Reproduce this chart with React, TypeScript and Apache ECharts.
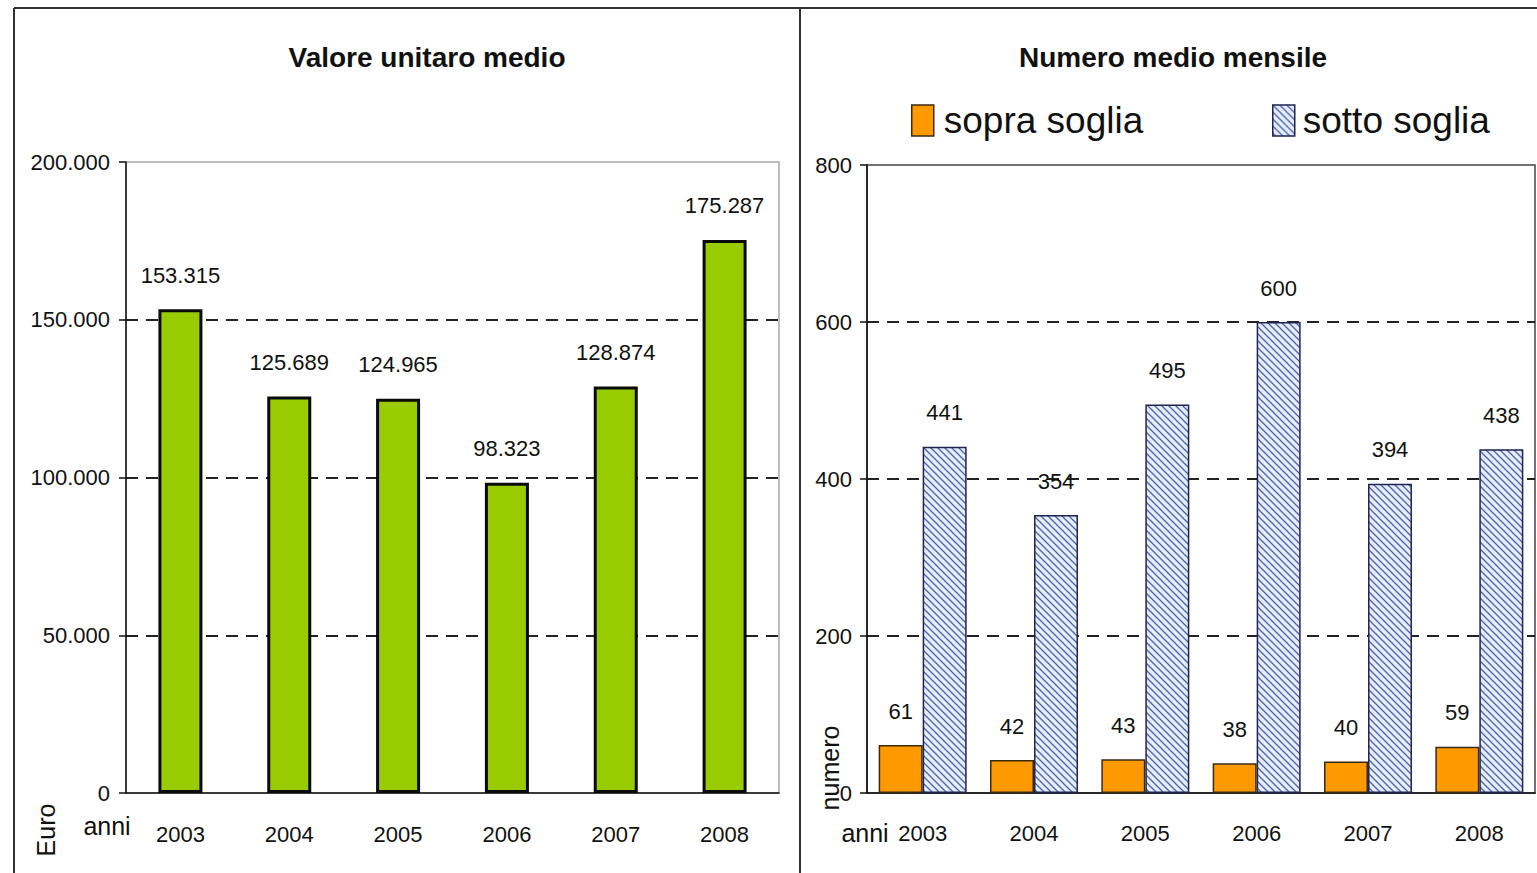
import React, { useEffect, useRef } from "react";
import * as echarts from "echarts";

const years = ["2003", "2004", "2005", "2006", "2007", "2008"];
const valoreUnitario = [153315, 125689, 124965, 98323, 128874, 175287];
const sopraSoglia = [61, 42, 43, 38, 40, 59];
const sottoSoglia = [441, 354, 495, 600, 394, 438];

const leftTitle = "Valore unitaro medio";
const rightTitle = "Numero medio mensile";
const seriesNames = ["sopra soglia", "sotto soglia"];

const FONT = "'Liberation Sans', Arial, sans-serif";

function fmtIt(v: number): string {
  return String(Math.round(v)).replace(/\B(?=(\d{3})+(?!\d))/g, ".");
}

function makeHatch(): string {
  const s = 7;
  const c = document.createElement("canvas");
  c.width = s;
  c.height = s;
  const ctx = c.getContext("2d")!;
  ctx.fillStyle = "#e6ecf8";
  ctx.fillRect(0, 0, s, s);
  ctx.strokeStyle = "#4a62b0";
  ctx.lineWidth = 1.3;
  ctx.beginPath();
  ctx.moveTo(-1, -1);
  ctx.lineTo(s + 1, s + 1);
  ctx.moveTo(-1, s - 1);
  ctx.lineTo(1, s + 1);
  ctx.moveTo(s - 1, -1);
  ctx.lineTo(s + 1, 1);
  ctx.stroke();
  return c.toDataURL();
}

export default function App() {
  const ref = useRef<HTMLDivElement>(null);

  useEffect(() => {
    if (!ref.current) return;
    const chart = echarts.init(ref.current, undefined, { renderer: "svg" });
    const hatch = { image: makeHatch(), repeat: "repeat", imageWidth: 7, imageHeight: 7 } as any;

    const splitColors = ["rgba(0,0,0,0)", "#222", "#222", "#222", "rgba(0,0,0,0)"];
    const axisLabel = { fontFamily: FONT, fontSize: 22, color: "#111" };

    const option: any = {
      animation: false,
      backgroundColor: "#fff",
      textStyle: { fontFamily: FONT },
      title: [
        {
          text: leftTitle,
          left: 422,
          top: 38,
          textAlign: "center",
          textStyle: { fontFamily: FONT, fontSize: 28, fontWeight: "bold", color: "#111" },
        },
        {
          text: rightTitle,
          left: 1168,
          top: 38,
          textAlign: "center",
          textStyle: { fontFamily: FONT, fontSize: 28, fontWeight: "bold", color: "#111" },
        },
      ],
      legend: [
        {
          data: [seriesNames[0]],
          left: 906,
          top: 97,
          itemWidth: 22,
          itemHeight: 31,
          icon: "rect",
          itemStyle: { borderWidth: 1.5, borderColor: "#3a2a10" },
          textStyle: { fontFamily: FONT, fontSize: 37, color: "#111", padding: [0, 0, 0, 5] },
        },
        {
          data: [seriesNames[1]],
          left: 1267,
          top: 97,
          itemWidth: 22,
          itemHeight: 31,
          icon: "rect",
          itemStyle: { borderWidth: 1.5, borderColor: "#1e2550" },
          textStyle: { fontFamily: FONT, fontSize: 37, color: "#111", padding: [0, 0, 0, 3] },
        },
      ],
      grid: [
        { left: 126, right: 1537 - 779, top: 162, bottom: 873 - 793, show: true, borderColor: "#a8a8a8", borderWidth: 1.5 },
        { left: 867, right: 1537 - 1535, top: 165, bottom: 873 - 793, show: true, borderColor: "#444", borderWidth: 1.5 },
      ],
      xAxis: [
        {
          type: "category",
          gridIndex: 0,
          data: years,
          axisLine: { lineStyle: { color: "#111", width: 1.5 } },
          axisTick: { length: 8, lineStyle: { color: "#111", width: 1.5 } },
          axisLabel: { ...axisLabel, margin: 30 },
        },
        {
          type: "category",
          gridIndex: 1,
          data: years,
          axisLine: { lineStyle: { color: "#111", width: 1.5 } },
          axisTick: { length: 8, lineStyle: { color: "#111", width: 1.5 } },
          axisLabel: { ...axisLabel, margin: 29 },
        },
      ],
      yAxis: [
        {
          type: "value",
          gridIndex: 0,
          min: 0,
          max: 200000,
          interval: 50000,
          axisLine: { show: true, lineStyle: { color: "#111", width: 1.5 } },
          axisTick: { show: true, length: 7, lineStyle: { color: "#111", width: 1.5 } },
          axisLabel: { ...axisLabel, margin: 16, formatter: (v: number) => fmtIt(v) },
          splitLine: { show: true, lineStyle: { color: splitColors, type: [12, 8], width: 1.8 } },
        },
        {
          type: "value",
          gridIndex: 1,
          min: 0,
          max: 800,
          interval: 200,
          axisLine: { show: true, lineStyle: { color: "#111", width: 1.5 } },
          axisTick: { show: true, length: 7, lineStyle: { color: "#111", width: 1.5 } },
          axisLabel: { ...axisLabel, margin: 15 },
          splitLine: { show: true, lineStyle: { color: splitColors, type: [12, 8], width: 1.8 } },
        },
      ],
      series: [
        {
          type: "bar",
          name: "valore",
          xAxisIndex: 0,
          yAxisIndex: 0,
          data: valoreUnitario,
          barWidth: 44,
          itemStyle: { color: "#99cc00", borderColor: "#0a0a0a", borderWidth: 3 },
          label: {
            show: true,
            position: "top",
            distance: 23,
            fontFamily: FONT,
            fontSize: 22,
            color: "#111",
            formatter: (p: any) => fmtIt(p.value),
          },
        },
        {
          type: "bar",
          name: seriesNames[0],
          xAxisIndex: 1,
          yAxisIndex: 1,
          data: sopraSoglia,
          barWidth: 44,
          barGap: "0%",
          itemStyle: { color: "#ff9900", borderColor: "#3a2a10", borderWidth: 1.5 },
          label: { show: true, position: "top", distance: 23, fontFamily: FONT, fontSize: 22, color: "#111" },
        },
        {
          type: "bar",
          name: seriesNames[1],
          xAxisIndex: 1,
          yAxisIndex: 1,
          data: sottoSoglia,
          barWidth: 44,
          barGap: "0%",
          itemStyle: { color: hatch, borderColor: "#1e2550", borderWidth: 1.5 },
          label: { show: true, position: "top", distance: 23, fontFamily: FONT, fontSize: 22, color: "#111" },
        },
      ],
      graphic: [
        { type: "line", shape: { x1: 14, y1: 8, x2: 1537, y2: 8 }, style: { stroke: "#333", lineWidth: 2 } },
        { type: "line", shape: { x1: 14, y1: 8, x2: 14, y2: 873 }, style: { stroke: "#333", lineWidth: 2 } },
        { type: "line", shape: { x1: 800, y1: 8, x2: 800, y2: 873 }, style: { stroke: "#333", lineWidth: 2 } },
        {
          type: "text",
          x: 107,
          y: 826,
          style: { text: "anni", font: `25px ${FONT}`, fill: "#111", align: "center", verticalAlign: "middle" },
        },
        {
          type: "text",
          x: 865,
          y: 833,
          style: { text: "anni", font: `25px ${FONT}`, fill: "#111", align: "center", verticalAlign: "middle" },
        },
        {
          type: "text",
          x: 46,
          y: 830,
          rotation: Math.PI / 2,
          style: { text: "Euro", font: `25px ${FONT}`, fill: "#111", align: "center", verticalAlign: "middle" },
        },
        {
          type: "text",
          x: 830,
          y: 768,
          rotation: Math.PI / 2,
          style: { text: "numero", font: `25px ${FONT}`, fill: "#111", align: "center", verticalAlign: "middle" },
        },
      ],
    };

    chart.setOption(option);
    return () => chart.dispose();
  }, []);

  return (
    <div
      ref={ref}
      style={{ position: "fixed", left: 0, top: 0, width: 1537, height: 873 }}
    />
  );
}
